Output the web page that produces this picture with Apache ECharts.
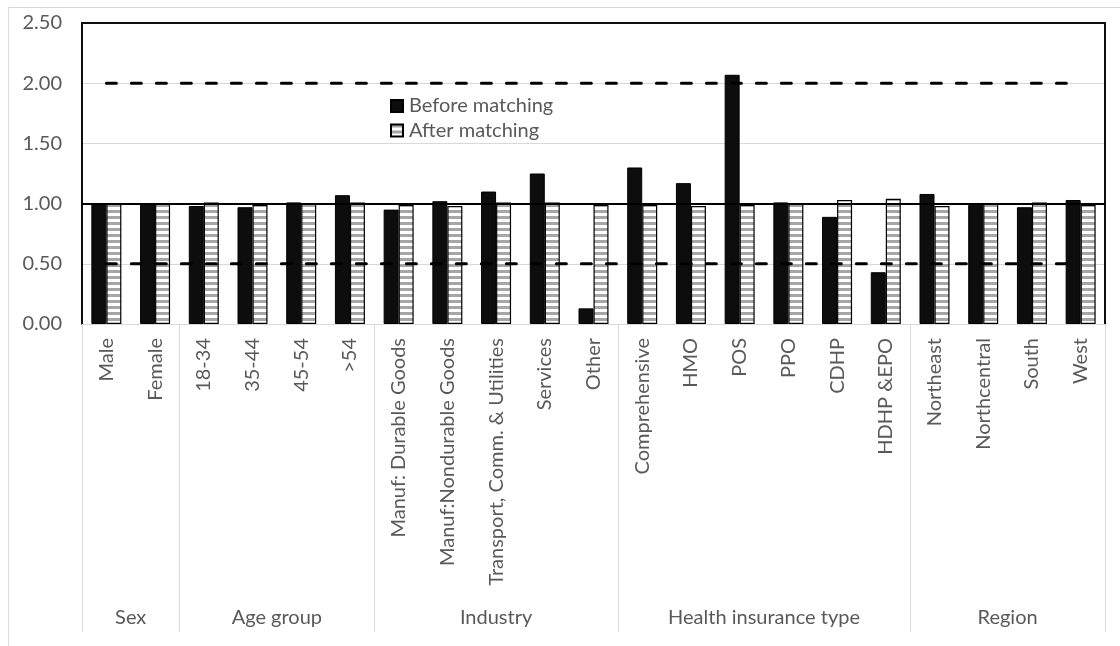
<!DOCTYPE html>
<html>
<head>
<meta charset="utf-8">
<script src="https://cdn.jsdelivr.net/npm/echarts@6/dist/echarts.min.js"></script>
<style>
html,body{margin:0;padding:0;background:#fff;}
#chart{width:1120px;height:646px;}
</style>
</head>
<body>
<div id="chart"></div>
<script>
// ---- data ----
const categories = ['Male','Female','18-34','35-44','45-54','>54','Manuf: Durable Goods','Manuf:Nondurable Goods','Transport, Comm. & Utilities','Services','Other','Comprehensive','HMO','POS','PPO','CDHP','HDHP &EPO','Northeast','Northcentral','South','West'];
const beforeMatching = [1.00,1.00,0.98,0.97,1.01,1.07,0.95,1.02,1.10,1.25,0.13,1.30,1.17,2.07,1.01,0.89,0.43,1.08,0.99,0.97,1.03];
const afterMatching  = [1.00,1.00,1.01,0.99,1.00,1.01,0.99,0.98,1.01,1.01,0.99,0.99,0.98,0.99,1.00,1.03,1.04,0.98,1.00,1.01,0.99];
const upperLimit = [2,2,2,2,2,2,2,2,2,2,2,2,2,2,2,2,2,2,2,2,2];
const lowerLimit = [0.5,0.5,0.5,0.5,0.5,0.5,0.5,0.5,0.5,0.5,0.5,0.5,0.5,0.5,0.5,0.5,0.5,0.5,0.5,0.5,0.5];
const referenceValue = 1.0;
const groupNames = ['Sex','Age group','Industry','Health insurance type','Region'];
const groupSizes = [2,4,5,6,4];
const yMin = 0, yMax = 2.5, yInterval = 0.5;

// ---- derived helpers for the group axis (half-category steps) ----
const halfSteps = [];
for (let k = 0; k <= categories.length * 2; k++) halfSteps.push(String(k));
const groupLabelAt = {};
const boundaryAt = {0: true};
let start = 0;
groupNames.forEach((g, i) => {
  groupLabelAt[start * 2 + groupSizes[i]] = g;
  start += groupSizes[i];
  boundaryAt[start * 2] = true;
});

// stripe pattern
const pat = document.createElement('canvas');
pat.width = 6; pat.height = 6;
const pctx = pat.getContext('2d');
pctx.fillStyle = '#ffffff'; pctx.fillRect(0,0,6,6);
pctx.fillStyle = '#a6a6a6'; pctx.fillRect(0,0,6,3);

const FONT = 'Lato, "Open Sans", sans-serif';
const TXT = '#595959';
const FS = 20;

const chart = echarts.init(document.getElementById('chart'), null, {renderer: 'canvas'});
const dashStyle = {color: '#000', width: 3, type: [10, 15], cap: 'round'};

chart.setOption({
  animation: false,
  backgroundColor: '#fff',
  textStyle: {fontFamily: FONT},
  graphic: [{
    type: 'rect', silent: true, z: -10,
    shape: {x: 8.5, y: 7.5, width: 1200, height: 700},
    style: {fill: null, stroke: '#d9d9d9', lineWidth: 1}
  }],
  grid: {left: 82, right: 15, top: 23, bottom: 322, containLabel: false},
  legend: {
    data: ['Before matching', 'After matching'],
    orient: 'vertical', left: 390, top: 96, padding: 0,
    itemWidth: 12, itemHeight: 12, itemGap: 4.5,
    icon: 'rect',
    textStyle: {fontSize: FS, color: TXT, fontFamily: FONT, lineHeight: 20, padding: [0, 0, 0, 1]}
  },
  xAxis: [
    {
      type: 'category', data: categories, position: 'bottom',
      axisLine: {onZero: false, lineStyle: {color: '#d9d9d9', width: 1}},
      axisTick: {show: false},
      axisLabel: {rotate: 90, margin: 14, interval: 0, fontSize: FS, color: TXT, fontFamily: FONT}
    },
    {
      type: 'category', data: halfSteps, boundaryGap: false, position: 'bottom', offset: 308,
      axisLine: {show: false, onZero: false},
      axisTick: {show: true, inside: true, length: 308, interval: (i) => !!boundaryAt[i], lineStyle: {color: '#d9d9d9', width: 1}},
      axisLabel: {inside: true, margin: 4, interval: (i) => groupLabelAt[i] !== undefined,
        formatter: (v) => groupLabelAt[v] || '', fontSize: FS, color: TXT, fontFamily: FONT},
      splitLine: {show: false}
    },
    {
      type: 'category', data: categories, position: 'top',
      axisLine: {onZero: false, lineStyle: {color: '#0d0d0d', width: 2}},
      axisTick: {show: false}, axisLabel: {show: false}, splitLine: {show: false}
    }
  ],
  yAxis: [
    {
      type: 'value', min: yMin, max: yMax, interval: yInterval, position: 'left',
      axisLine: {show: true, lineStyle: {color: '#0d0d0d', width: 2}},
      axisTick: {show: false},
      axisLabel: {formatter: (v) => v.toFixed(2), margin: 20, fontSize: FS, color: TXT, fontFamily: FONT},
      splitLine: {show: true, lineStyle: {color: '#d9d9d9', width: 1}}
    },
    {
      type: 'value', min: yMin, max: yMax, interval: yInterval, position: 'right',
      axisLine: {show: true, lineStyle: {color: '#0d0d0d', width: 2}},
      axisTick: {show: false}, axisLabel: {show: false}, splitLine: {show: false}
    }
  ],
  series: [
    {
      name: 'Before matching', type: 'bar', data: beforeMatching,
      barWidth: 15, barGap: '0%',
      itemStyle: {color: '#0d0d0d', borderColor: '#000', borderWidth: 1}
    },
    {
      name: 'After matching', type: 'bar', data: afterMatching,
      barWidth: 15, barGap: '0%',
      itemStyle: {color: {image: pat, repeat: 'repeat'}, borderColor: '#000', borderWidth: 1.2}
    },
    {
      name: 'Upper', type: 'line', data: upperLimit, symbol: 'none', silent: true, z: 5,
      lineStyle: dashStyle,
      markLine: {
        symbol: ['none', 'none'], silent: true, label: {show: false},
        lineStyle: {color: '#000', type: 'solid', width: 2},
        data: [{yAxis: referenceValue}]
      }
    },
    {
      name: 'Lower', type: 'line', data: lowerLimit, symbol: 'none', silent: true, z: 5,
      lineStyle: dashStyle
    }
  ]
});
</script>
</body>
</html>
